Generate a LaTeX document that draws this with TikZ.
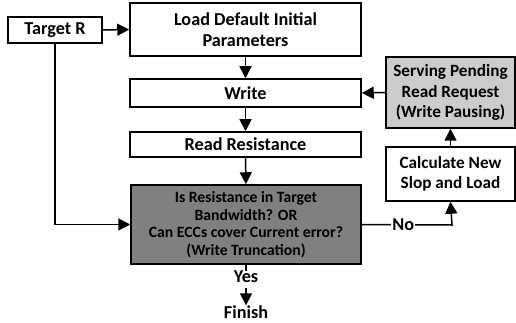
\documentclass[tikz,border=0pt]{standalone}
\usepackage{fontspec}
\setmainfont{Carlito}
\usetikzlibrary{arrows.meta}
\definecolor{darkbox}{RGB}{128,128,128}
\definecolor{lightbox}{RGB}{204,204,204}
\begin{document}
\begin{tikzpicture}[x=1pt,y=-1pt,
  every node/.style={font=\bfseries\fontsize{18.2}{21}\selectfont, align=center, inner sep=0pt},
  box/.style={draw, line width=1.5pt, fill=white},
  link/.style={line width=1.5pt},
  arr/.style={link, -{Triangle[length=12pt,width=12pt]}}]
\useasboundingbox (0,0) rectangle (516,323);
\node[box, minimum width=94pt, minimum height=26pt] (tgt) at (55,30) {Target R};
\node[box, minimum width=231pt, minimum height=53pt] (load) at (245.5,29.5) {Load Default Initial\\Parameters};
\node[box, minimum width=231pt, minimum height=28pt] (write) at (245.5,93) {Write};
\node[box, minimum width=231pt, minimum height=25pt] (read) at (245.5,144.5) {Read Resistance};
\node[box, fill=darkbox, minimum width=230pt, minimum height=79pt,
      font=\bfseries\fontsize{15.7}{17.6}\selectfont] (dec) at (246,224.5)
  {Is Resistance in Target\\Bandwidth? OR\\Can ECCs cover Current error?\\(Write Truncation)};
\node[box, fill=lightbox, minimum width=129pt, minimum height=71pt,
      font=\bfseries\fontsize{17.2}{20.5}\selectfont] (serve) at (450.5,92.5)
  {Serving Pending\\Read Request\\(Write Pausing)};
\node[box, minimum width=129pt, minimum height=54pt,
      font=\bfseries\fontsize{17.2}{20.5}\selectfont] (calc) at (450.5,174)
  {Calculate New\\Slop and Load};
\node (yes) at (246,277) {Yes};
\node (fin) at (246,312) {Finish};
\coordinate (nocorner) at (452,225);
\draw[arr] (tgt.east) -- (load.west);
\draw[arr] (load.south) -- (write.north);
\draw[arr] (write.south) -- (read.north);
\draw[arr] (read.south) -- (dec.north);
\draw[arr] (tgt.south) |- (dec.west);
\draw[link] (dec.south) -- (yes.north);
\draw[arr] (yes.south) ++(0,5) -- (fin.north);
\draw[arr] (dec.east) -- node[pos=0.46, fill=white, inner sep=1pt] {No} (nocorner) -- (calc.south);
\draw[arr] (calc.north) -- (serve.south);
\draw[arr] (serve.west) -- (write.east);
\end{tikzpicture}
\end{document}
